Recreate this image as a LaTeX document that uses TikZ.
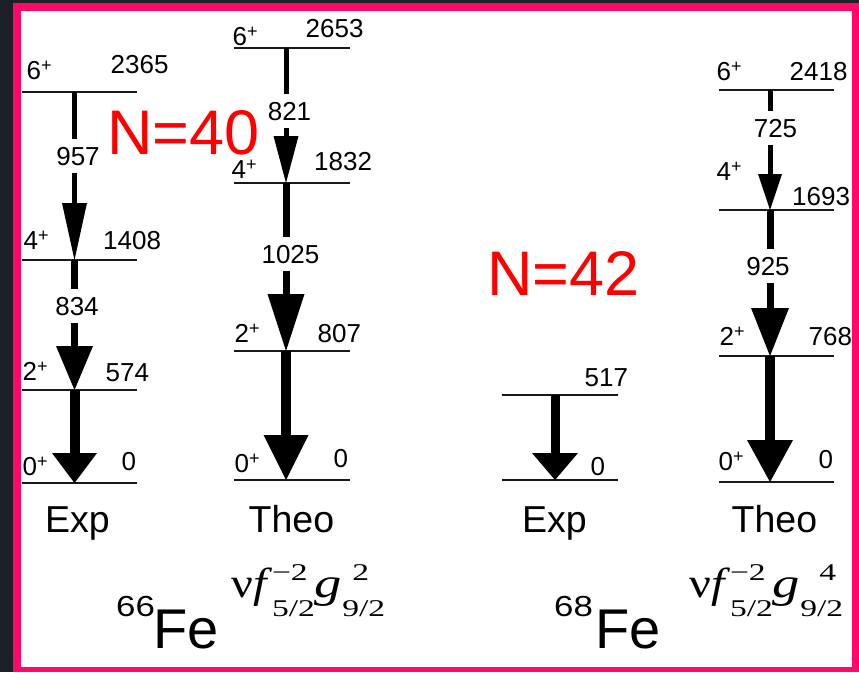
\documentclass[tikz,border=0pt]{standalone}
\usepackage{fontspec}
\usepackage{graphicx}
\setmainfont{Liberation Sans}
\newfontfamily\serifnu{Liberation Serif}
\usetikzlibrary{arrows.meta}
\definecolor{framepink}{RGB}{255,8,104}
\definecolor{darkbg}{RGB}{28,33,38}
\definecolor{nred}{RGB}{255,0,0}
\newcommand\fs[1]{\fontsize{#1}{#1}\selectfont}
\newcommand\spin[1]{#1\raisebox{8pt}{\fs{18}+}}
\newcommand\scr[1]{\scalebox{1.4}[1]{\fs{24}#1}}
\newcommand\nuconf[2]{{\serifnu\fs{42}\scalebox{1.15}[1]{ν\textit{f}}\rlap{\raisebox{17pt}{\scr{−2}}}\raisebox{-19pt}{\scr{5/2}}\scalebox{1.3}[1]{\textit{g}}\rlap{\raisebox{17pt}{\hspace{#2}\scr{#1}}}\raisebox{-19pt}{\scr{9/2}}}}
\begin{document}
\begin{tikzpicture}[x=1pt,y=-1pt,
  lvl/.style={line width=1.4pt, black!90},
  num/.style={font=\fs{26}, inner sep=0pt, anchor=base west},
  glabel/.style={font=\fs{26}, fill=white, inner xsep=2pt, inner ysep=8pt, anchor=base},
  big/.style={font=\fs{37.5}, inner sep=0pt, anchor=base west},
  nlab/.style={font=\fs{63}, text=nred, inner sep=0pt, anchor=base west},
  gam/.style n args={3}{line width=#1, -{Triangle[length=#2, width=#3, line width=0pt]}}
]
\useasboundingbox (0,0) rectangle (859,672);
\fill[darkbg] (0,0) rectangle (859,672);
\fill[framepink] (13,3) rectangle (859,672);
\fill[white] (21,11) rectangle (852,667);

% level coordinates
\coordinate (A6) at (74.5,92);  \coordinate (A4) at (74.5,260);
\coordinate (A2) at (74.5,390); \coordinate (A0) at (74.5,483);
\coordinate (B6) at (286,48);   \coordinate (B4) at (286,183);
\coordinate (B2) at (286,351);  \coordinate (B0) at (286,480);
\coordinate (C1) at (555,395);  \coordinate (C0) at (555,480);
\coordinate (D6) at (770,90);   \coordinate (D4) at (770,210);
\coordinate (D2) at (770,356);  \coordinate (D0) at (770,482);

% level lines
\foreach \c in {A6,A4,A2,A0} \draw[lvl] ([xshift=-52.5pt]\c) -- ([xshift=62.5pt]\c);
\foreach \c in {B6,B4,B2,B0} \draw[lvl] ([xshift=-52pt]\c) -- ([xshift=64pt]\c);
\foreach \c in {C1,C0} \draw[lvl] ([xshift=-53pt]\c) -- ([xshift=63pt]\c);
\foreach \c in {D6,D4,D2,D0} \draw[lvl] ([xshift=-51pt]\c) -- ([xshift=64pt]\c);

% transitions
\draw[gam={5pt}{57pt}{25pt}] (A6) -- (A4);
\draw[gam={7pt}{44pt}{37pt}] (A4) -- (A2);
\draw[gam={10pt}{30pt}{45pt}] (A2) -- (A0);
\draw[gam={5pt}{47pt}{25pt}] (B6) -- (B4);
\draw[gam={7pt}{57pt}{37pt}] (B4) -- (B2);
\draw[gam={10pt}{45pt}{45pt}] (B2) -- (B0);
\draw[gam={9pt}{27pt}{46pt}] (C1) -- (C0);
\draw[gam={5pt}{36pt}{24pt}] (D6) -- (D4);
\draw[gam={7pt}{48pt}{38pt}] (D4) -- (D2);
\draw[gam={10pt}{42pt}{46pt}] (D2) -- (D0);

% gamma energies
\node[glabel] (g957) at (78,165) {957};
\node[glabel] (g834) at (77,315) {834};
\node[glabel] (g821) at (289.5,120) {821};
\node[glabel] (g1025) at (290.5,263) {1025};
\node[glabel] (g725) at (775.5,137) {725};
\node[glabel] (g925) at (768,275) {925};

% column 1 labels
\node[num] (a6s) at (26.5,79) {\spin{6}};
\node[num] (a6e) at (110.5,73) {2365};
\node[num] (a4s) at (23.5,249) {\spin{4}};
\node[num] (a4e) at (103,249) {1408};
\node[num] (a2s) at (22.5,380) {\spin{2}};
\node[num] (a2e) at (105.5,381) {574};
\node[num] (a0s) at (22.5,475) {\spin{0}};
\node[num] (a0e) at (121.5,470) {0};
% column 2 labels
\node[num] (b6s) at (232.5,45) {\spin{6}};
\node[num] (b6e) at (305.5,37) {2653};
\node[num] (b4s) at (231.5,178) {\spin{4}};
\node[num] (b4e) at (314,170) {1832};
\node[num] (b2s) at (234.5,342) {\spin{2}};
\node[num] (b2e) at (317.5,342) {807};
\node[num] (b0s) at (234.5,472) {\spin{0}};
\node[num] (b0e) at (333.5,467) {0};
% column 3 labels
\node[num] (c1e) at (584.5,386) {517};
\node[num] (c0e) at (590.5,475) {0};
% column 4 labels
\node[num] (d6s) at (716.5,80) {\spin{6}};
\node[num] (d6e) at (789.5,80) {2418};
\node[num] (d4s) at (716.5,180) {\spin{4}};
\node[num] (d4e) at (792,205) {1693};
\node[num] (d2s) at (719.5,345) {\spin{2}};
\node[num] (d2e) at (808.5,345) {768};
\node[num] (d0s) at (718.5,470) {\spin{0}};
\node[num] (d0e) at (818.5,468) {0};

% column titles
\node[big] (exp1) at (45,532) {Exp};
\node[big] (theo1) at (248.5,532) {Theo};
\node[big] (exp2) at (522,532) {Exp};
\node[big] (theo2) at (731.5,532) {Theo};

% N labels
\node[nlab] (n40) at (107,154) {N=40};
\node[nlab] (n42) at (487,295) {N=42};

% nuclei
\node[inner sep=0pt, anchor=base west] (m66) at (116,616) {\scalebox{1.2}[1]{\fs{29}66}};
\node[inner sep=0pt, anchor=base west, font=\fs{56}] (fe66) at (153.5,648) {Fe};
\node[inner sep=0pt, anchor=base west] (m68) at (554,616) {\scalebox{1.2}[1]{\fs{29}68}};
\node[inner sep=0pt, anchor=base west, font=\fs{56}] (fe68) at (595.5,648) {Fe};

% configurations
\node[inner sep=0pt, anchor=base west] (cfg66) at (231,597) {\nuconf{2}{10pt}};
\node[inner sep=0pt, anchor=base west] (cfg68) at (689,597) {\nuconf{4}{19pt}};
\end{tikzpicture}
\end{document}
